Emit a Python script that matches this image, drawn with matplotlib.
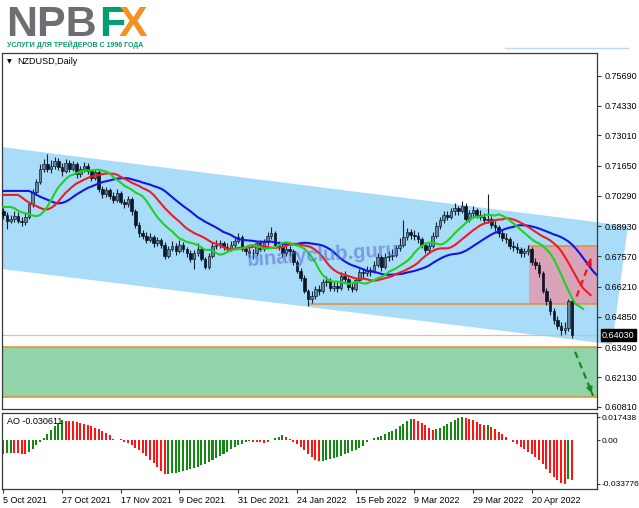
import numpy as np
import matplotlib
matplotlib.use("Agg")
import matplotlib.pyplot as plt
from matplotlib.patches import Polygon, Rectangle
from matplotlib.lines import Line2D
import matplotlib.transforms as mtransforms

plt.rcParams['font.family'] = ['Liberation Sans', 'DejaVu Sans']

# ---- data (NZDUSD daily, bar 0 = 5 Oct 2021) ----
first_open = 0.6960
closes = [
    0.6945, 0.6918, 0.6925, 0.6940, 0.6918, 0.6912, 0.6935, 0.6990, 0.7045, 0.7090,
    0.7150, 0.7170, 0.7150, 0.7165, 0.7185, 0.7160, 0.7140, 0.7175, 0.7150, 0.7170,
    0.7125, 0.7150, 0.7165, 0.7140, 0.7110, 0.7135, 0.7060, 0.7035, 0.7055, 0.7030,
    0.7010, 0.7040, 0.7000, 0.6990, 0.7015, 0.6960, 0.6900, 0.6860, 0.6850, 0.6830,
    0.6845, 0.6815, 0.6830, 0.6810, 0.6760, 0.6790, 0.6805, 0.6780, 0.6810, 0.6790,
    0.6770, 0.6745, 0.6770, 0.6790, 0.6745, 0.6710, 0.6760, 0.6805, 0.6810, 0.6815,
    0.6800, 0.6790, 0.6810, 0.6825, 0.6845, 0.6790, 0.6780, 0.6770, 0.6770, 0.6815,
    0.6790, 0.6820, 0.6850, 0.6860, 0.6810, 0.6800, 0.6770, 0.6790, 0.6780, 0.6730,
    0.6690, 0.6660, 0.6600, 0.6565, 0.6580, 0.6610, 0.6600, 0.6640, 0.6645, 0.6615,
    0.6625, 0.6615, 0.6670, 0.6655, 0.6620, 0.6610, 0.6650, 0.6685, 0.6680, 0.6695,
    0.6690, 0.6720, 0.6755, 0.6710, 0.6755, 0.6760, 0.6765, 0.6795, 0.6810, 0.6845,
    0.6865, 0.6855, 0.6850, 0.6835, 0.6810, 0.6785, 0.6805, 0.6850, 0.6895, 0.6920,
    0.6945, 0.6935, 0.6960, 0.6975, 0.6960, 0.6985, 0.6925, 0.6950, 0.6965, 0.6945,
    0.6935, 0.6920, 0.6925, 0.6900, 0.6890, 0.6860, 0.6840, 0.6835, 0.6805, 0.6800,
    0.6790, 0.6770, 0.6780, 0.6790, 0.6730, 0.6720, 0.6680, 0.6600, 0.6555, 0.6510,
    0.6470, 0.6445, 0.6425, 0.6435, 0.6555, 0.6403,
]
highs = [
    0.6975, 0.6955, 0.6945, 0.6960, 0.6955, 0.6935, 0.6950, 0.7000, 0.7060, 0.7105,
    0.7170, 0.7195, 0.7219, 0.7190, 0.7205, 0.7200, 0.7175, 0.7195, 0.7190, 0.7185,
    0.7180, 0.7165, 0.7180, 0.7175, 0.7150, 0.7150, 0.7145, 0.7075, 0.7070, 0.7065,
    0.7045, 0.7060, 0.7050, 0.7015, 0.7030, 0.7025, 0.6970, 0.6910, 0.6875, 0.6865,
    0.6860, 0.6855, 0.6845, 0.6840, 0.6820, 0.6805, 0.6825, 0.6815, 0.6830, 0.6820,
    0.6800, 0.6785, 0.6785, 0.6815, 0.6800, 0.6755, 0.6770, 0.6815, 0.6830, 0.6830,
    0.6825, 0.6815, 0.6825, 0.6840, 0.6860, 0.6855, 0.6805, 0.6795, 0.6790, 0.6825,
    0.6830, 0.6835, 0.6865, 0.6890, 0.6870, 0.6825, 0.6815, 0.6805, 0.6805, 0.6790,
    0.6740, 0.6705, 0.6675, 0.6610, 0.6600, 0.6625, 0.6630, 0.6655, 0.6670, 0.6660,
    0.6645, 0.6640, 0.6685, 0.6690, 0.6665, 0.6635, 0.6665, 0.6700, 0.6705, 0.6715,
    0.6710, 0.6735, 0.6770, 0.6765, 0.6770, 0.6780, 0.6790, 0.6810, 0.6840, 0.6920,
    0.6885, 0.6880, 0.6875, 0.6865, 0.6845, 0.6820, 0.6820, 0.6865, 0.6910, 0.6935,
    0.6960, 0.6960, 0.6975, 0.6995, 0.6985, 0.7005, 0.6995, 0.6965, 0.6985, 0.6975,
    0.6965, 0.6950, 0.7035, 0.6940, 0.6915, 0.6900, 0.6875, 0.6860, 0.6845, 0.6825,
    0.6815, 0.6800, 0.6795, 0.6807, 0.6800, 0.6750, 0.6730, 0.6690, 0.6615, 0.6570,
    0.6525, 0.6490, 0.6460, 0.6460, 0.6565, 0.6560,
]
lows = [
    0.6925, 0.6880, 0.6905, 0.6910, 0.6905, 0.6895, 0.6900, 0.6925, 0.6980, 0.7035,
    0.7080, 0.7135, 0.7135, 0.7130, 0.7150, 0.7145, 0.7120, 0.7130, 0.7135, 0.7140,
    0.7110, 0.7115, 0.7135, 0.7125, 0.7095, 0.7100, 0.7045, 0.7020, 0.7025, 0.7015,
    0.6995, 0.7000, 0.6990, 0.6975, 0.6980, 0.6945, 0.6885, 0.6845, 0.6835, 0.6815,
    0.6820, 0.6800, 0.6805, 0.6795, 0.6745, 0.6750, 0.6780, 0.6765, 0.6770, 0.6775,
    0.6755, 0.6730, 0.6702, 0.6760, 0.6735, 0.6700, 0.6700, 0.6750, 0.6790, 0.6795,
    0.6785, 0.6775, 0.6780, 0.6800, 0.6815, 0.6780, 0.6765, 0.6755, 0.6745, 0.6760,
    0.6780, 0.6780, 0.6810, 0.6835, 0.6800, 0.6785, 0.6755, 0.6760, 0.6760, 0.6720,
    0.6680, 0.6645, 0.6590, 0.6532, 0.6545, 0.6565, 0.6585, 0.6590, 0.6625, 0.6600,
    0.6600, 0.6595, 0.6605, 0.6640, 0.6605, 0.6595, 0.6600, 0.6640, 0.6660, 0.6670,
    0.6670, 0.6680, 0.6710, 0.6690, 0.6700, 0.6735, 0.6740, 0.6755, 0.6780, 0.6800,
    0.6830, 0.6835, 0.6830, 0.6815, 0.6795, 0.6770, 0.6770, 0.6795, 0.6840, 0.6880,
    0.6905, 0.6920, 0.6925, 0.6945, 0.6945, 0.6950, 0.6915, 0.6910, 0.6935, 0.6930,
    0.6920, 0.6905, 0.6905, 0.6885, 0.6870, 0.6845, 0.6825, 0.6815, 0.6790, 0.6780,
    0.6770, 0.6755, 0.6755, 0.6765, 0.6720, 0.6700, 0.6665, 0.6590, 0.6540, 0.6495,
    0.6455, 0.6430, 0.6405, 0.6410, 0.6420, 0.6390,
]
ao_values = [
    -0.0105, -0.0101, -0.0098, -0.0100, -0.0103, -0.0105, -0.0107, -0.0093, -0.0067, -0.0041,
    -0.0012, 0.0018, 0.0048, 0.0078, 0.0105, 0.0130, 0.0152, 0.0150, 0.0148, 0.0145,
    0.0140, 0.0133, 0.0125, 0.0116, 0.0106, 0.0095, 0.0084, 0.0071, 0.0057, 0.0036,
    0.0010, 0.0004, 0.0007, -0.0012, -0.0025, -0.0040, -0.0058, -0.0078, -0.0100, -0.0125,
    -0.0152, -0.0180, -0.0210, -0.0240, -0.0260, -0.0258, -0.0255, -0.0251, -0.0246, -0.0240,
    -0.0233, -0.0225, -0.0216, -0.0206, -0.0195, -0.0183, -0.0170, -0.0156, -0.0141, -0.0125,
    -0.0108, -0.0090, -0.0072, -0.0055, -0.0040, -0.0028, -0.0018, -0.0010, -0.0013, -0.0016,
    -0.0019, -0.0020, -0.0012, 0.0000, 0.0014, 0.0027, 0.0036, 0.0024, 0.0006, -0.0012,
    -0.0032, -0.0054, -0.0078, -0.0104, -0.0128, -0.0150, -0.0165, -0.0160, -0.0154, -0.0147,
    -0.0139, -0.0130, -0.0121, -0.0111, -0.0100, -0.0088, -0.0075, -0.0061, -0.0046, -0.0016,
    0.0003, 0.0012, 0.0022, 0.0033, 0.0045, 0.0058, 0.0072, 0.0088, 0.0105, 0.0123,
    0.0143, 0.0162, 0.0158, 0.0146, 0.0130, 0.0112, 0.0094, 0.0078, 0.0082, 0.0096,
    0.0111, 0.0126, 0.0141, 0.0155, 0.0166, 0.017438, 0.0170, 0.0162, 0.0151, 0.0139,
    0.0126, 0.0114, 0.0118, 0.0102, 0.0084, 0.0064, 0.0043, 0.0021, 0.0003, -0.0016,
    -0.0034, -0.0053, -0.0072, -0.0090, -0.0108, -0.0128, -0.0150, -0.0185, -0.0220, -0.0255,
    -0.0285, -0.0310, -0.0328, -0.033776, -0.0302, -0.030611,
]
# alligator lines: value each line shows at the first bar
line_start = {'lips': 0.6979, 'teeth': 0.7033, 'jaw': 0.7051}

price_ticks = [0.75690, 0.74330, 0.73010, 0.71650, 0.70290, 0.68930, 0.67570,
               0.66210, 0.64850, 0.63490, 0.62130, 0.60810]
date_bars = [0, 16, 32, 48, 64, 80, 96, 112, 128, 144]
date_labels = ['5 Oct 2021', '27 Oct 2021', '17 Nov 2021', '9 Dec 2021', '31 Dec 2021',
               '24 Jan 2022', '15 Feb 2022', '9 Mar 2022', '29 Mar 2022', '20 Apr 2022']
last_price = 0.64030

# drawn objects (bar index, price)
channel = [(-0.35, 0.7248), (170.2, 0.6893), (165.9, 0.6361), (-0.35, 0.6700)]
support_low = 0.6542
box_start, box_top = 143.2, 0.6804
target_zone = (0.6123, 0.6349)
up_arrow = [(156.2, 0.6576), (160.4, 0.6759)]
down_arrow = [(155.8, 0.6328), (160.7, 0.6130)]


def smma(values, period, seed):
    out = []
    prev = seed
    for v in values:
        prev = (prev * (period - 1) + v) / period
        out.append(prev)
    return np.array(out)


closes = np.array(closes)
highs = np.array(highs)
lows = np.array(lows)
opens = np.concatenate([[first_open], closes[:-1]])
n = len(closes)
bars = np.arange(n)
median = (highs + lows) / 2

W, H = 639, 508
fig = plt.figure(figsize=(W / 100, H / 100), dpi=100)
fig.patch.set_facecolor('white')
ax = fig.add_axes([2 / W, (H - 409) / H, 595 / W, 356 / H])
ax2 = fig.add_axes([2 / W, (H - 489) / H, 595 / W, 76 / H])

xmin, xmax = -0.354, 161.77
ax.set_xlim(xmin, xmax)
ax.set_ylim(0.60707, 0.76710)

# channel, zones
ax.add_patch(Polygon(channel, closed=True, facecolor='#a9dcf8', edgecolor='none',
                     zorder=0.5, clip_on=False))
ax.add_patch(Rectangle((xmin, target_zone[0]), xmax - xmin, target_zone[1] - target_zone[0],
                       facecolor='#92d4aa', edgecolor='none', zorder=0.6))
ax.add_patch(Rectangle((box_start, support_low), xmax - box_start, box_top - support_low,
                       facecolor='#d9a3ba', edgecolor='none', zorder=0.7))
ax.hlines(target_zone, xmin, xmax, color='#e98a2c', lw=1.1, zorder=1)
ax.hlines(support_low, 83, xmax, color='#e98a2c', lw=1.1, zorder=1)
ax.hlines(box_top, box_start, xmax, color='#e98a2c', lw=1.1, zorder=1)
ax.axhline(last_price, color='#c4c4c4', lw=0.9, zorder=1)

# candles
up = closes >= opens
body_low = np.minimum(opens, closes)
body_h = np.maximum(np.abs(closes - opens), 0.00015)
ax.vlines(bars, lows, highs, color='#15202e', lw=0.8, zorder=3)
ax.bar(bars[up], body_h[up], bottom=body_low[up], width=0.7, color='#6487a8',
       edgecolor='#15202e', linewidth=0.5, zorder=3.1)
ax.bar(bars[~up], body_h[~up], bottom=body_low[~up], width=0.7, color='#0b1626',
       edgecolor='#0b1626', linewidth=0.5, zorder=3.1)

# alligator lines (shifted forward)
jaw = np.concatenate([np.full(8, line_start['jaw']), smma(median, 13, line_start['jaw'])])
teeth = np.concatenate([np.full(5, line_start['teeth']), smma(median, 8, line_start['teeth'])])
lips = np.concatenate([np.full(3, line_start['lips']), smma(median, 5, line_start['lips'])])
ax.plot(np.arange(len(jaw)), jaw, color='#1414e6', lw=1.5, zorder=4)
ax.plot(np.arange(len(teeth)), teeth, color='#ee1c24', lw=1.5, zorder=4)
ax.plot(np.arange(len(lips)), lips, color='#1ed21e', lw=1.5, zorder=4)

# watermark
ax.text(66.4, 0.6712, 'binaryclub.guru', fontsize=14.5, weight='bold', color='#5a70d4',
        alpha=0.6, rotation=4, rotation_mode='anchor', ha='left', va='baseline', zorder=5)

# forecast arrows
ax.plot([up_arrow[0][0], up_arrow[1][0]], [up_arrow[0][1], up_arrow[1][1]],
        color='#ff1010', lw=1.6, ls=(0, (3, 2)), zorder=6, clip_on=False)
ax.annotate('', xy=up_arrow[1], xytext=(up_arrow[1][0] - 0.6, up_arrow[1][1] - 0.0027),
            arrowprops=dict(arrowstyle='-|>', color='#ff1010', lw=1.2, mutation_scale=9),
            zorder=6, annotation_clip=False)
ax.plot([down_arrow[0][0], down_arrow[1][0]], [down_arrow[0][1], down_arrow[1][1]],
        color='#168a22', lw=1.6, ls=(0, (3, 2)), zorder=6, clip_on=False)
ax.annotate('', xy=down_arrow[1], xytext=(down_arrow[1][0] - 0.6, down_arrow[1][1] + 0.0024),
            arrowprops=dict(arrowstyle='-|>', color='#168a22', lw=1.2, mutation_scale=9),
            zorder=6, annotation_clip=False)

# axes styling
for a in (ax, ax2):
    for s in a.spines.values():
        s.set_color('#3a3a3a')
        s.set_linewidth(0.9)
    a.yaxis.tick_right()

ax.tick_params(axis='y', direction='out', length=3, width=0.8, pad=2.5,
               labelsize=6.5, color='#3a3a3a')
ax.set_xticks([])
ax.set_yticks(price_ticks)
ax.set_yticklabels(['%.5f' % p for p in price_ticks])

trans = mtransforms.blended_transform_factory(ax.transAxes, ax.transData)
ax.text(1.0085, last_price, '%.5f' % last_price, transform=trans, fontsize=6.5,
        color='white', va='center', ha='left', zorder=10,
        bbox=dict(boxstyle='square,pad=0.15', facecolor='black', edgecolor='black'))

ax.text(15 / 595, 1 - 9 / 356, 'NZDUSD,Daily', transform=ax.transAxes, fontsize=6.5,
        va='center', ha='left')
ax.text(5 / 595, 1 - 9 / 356, '\u25bc', transform=ax.transAxes, fontsize=4.5,
        va='center', ha='left', family=['DejaVu Sans'])

# AO panel
ao = np.array(ao_values)
ao_colors = ['#ff1414' if i == 0 or ao[i] <= ao[i - 1] else '#128a12' for i in range(len(ao))]
ax2.bar(np.arange(len(ao)), ao, width=0.55, color=ao_colors, zorder=2)
ax2.set_xlim(xmin, xmax)
ax2.set_ylim(-0.0377, 0.0208)
ax2.set_yticks([0.017438, 0.0, -0.033776])
ax2.set_yticklabels(['0.017438', '0.00', '-0.033776'])
ax2.tick_params(axis='y', direction='out', length=2, width=0.8, pad=1,
                labelsize=6.0, color='#3a3a3a')
ax2.set_xticks(date_bars)
ax2.set_xticklabels(date_labels, ha='left')
ax2.tick_params(axis='x', direction='out', length=3, width=0.8, pad=2,
                labelsize=6.5, color='#3a3a3a')
ax2.text(5 / 595, 1 - 8 / 76, 'AO %.6f' % ao[-1], transform=ax2.transAxes, fontsize=6.5,
         va='center', ha='left')

# header logo
fig.text(6 / W, 1 - 36 / H, 'NPB', fontsize=31, weight='bold', color='#6d6e71', va='baseline')
fig.text(99 / W, 1 - 36 / H, 'F', fontsize=31, weight='bold', color='#00a06e', va='baseline')
fig.text(119 / W, 1 - 36 / H, 'X', fontsize=31, weight='bold', color='#f39220', va='baseline')
fig.text(7 / W, 1 - 47 / H, 'УСЛУГИ ДЛЯ ТРЕЙДЕРОВ С 1996 ГОДА', fontsize=5.0, weight='bold',
         color='#0a9a6a', va='baseline')
fig.add_artist(Line2D([505 / W, 628 / W], [1 - 48 / H, 1 - 48 / H], color='#b8ddf5', lw=1))

fig.savefig('out.png', dpi=100)
